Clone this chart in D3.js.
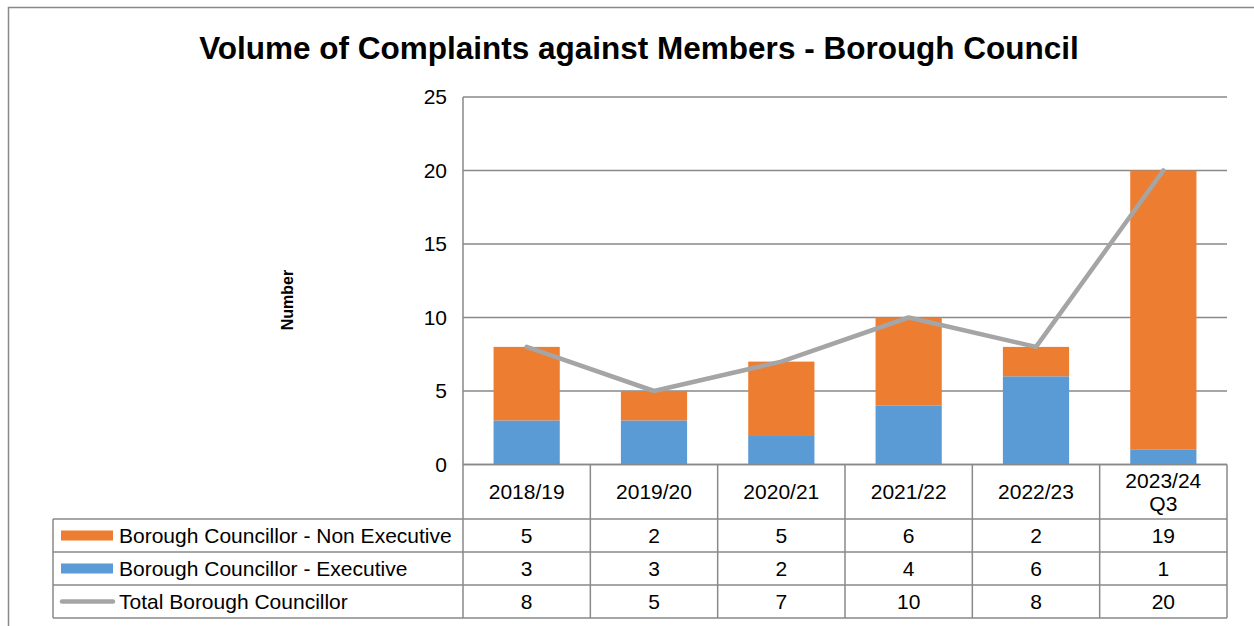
<!DOCTYPE html>
<html><head><meta charset="utf-8">
<script src="https://cdn.jsdelivr.net/npm/d3@7"></script>
<style>html,body{margin:0;padding:0;background:#fff;}svg{display:block;font-family:"Liberation Sans",Arial,sans-serif;}</style>
</head><body>
<svg id="chart" width="1254" height="626"></svg>
<script>
const categories = ["2018/19","2019/20","2020/21","2021/22","2022/23","2023/24\nQ3"];
const nonExecutive = [5,2,5,6,2,19];
const executive = [3,3,2,4,6,1];
const total = [8,5,7,10,8,20];
const yTicks = [0,5,10,15,20,25];
const seriesNames = ["Borough Councillor - Non Executive","Borough Councillor - Executive","Total Borough Councillor"];
const colors = {nonExec:"#ED7D31", exec:"#5B9BD5", total:"#A5A5A5"};

const svg = d3.select("#chart");
const W = 1254, H = 626;
svg.append("rect").attr("width",W).attr("height",H).attr("fill","#fff");
// outer chart border (clipped at right/bottom)
svg.append("rect").attr("x",8.5).attr("y",7.5).attr("width",1300).attr("height",700)
  .attr("fill","none").attr("stroke","#898989").attr("stroke-width",1.5);

const plot = {left:463, right:1227, top:97, bottom:464.5};
const gridColor = "#898989";

svg.append("text").attr("x",639).attr("y",59).attr("text-anchor","middle")
  .attr("font-size",31.5).attr("font-weight","bold").attr("fill","#000")
  .text("Volume of Complaints against Members - Borough Council");

const x = d3.scaleBand().domain(categories).range([plot.left,plot.right]).paddingInner(0.48).paddingOuter(0.24);
const col = d3.scaleBand().domain(categories).range([plot.left,plot.right]).padding(0);
const y = d3.scaleLinear().domain([0,25]).range([plot.bottom,plot.top]);

// gridlines
svg.append("g").selectAll("line").data(yTicks).join("line")
  .attr("x1",plot.left).attr("x2",plot.right)
  .attr("y1",d=>y(d)).attr("y2",d=>y(d))
  .attr("stroke",gridColor).attr("stroke-width",1.5);

// y axis tick labels via d3 axis
const yAxis = d3.axisLeft(y).tickValues(yTicks).tickSize(0).tickPadding(16);
const ya = svg.append("g").attr("transform",`translate(${plot.left},0)`).call(yAxis);
ya.select(".domain").remove();
ya.selectAll("text").attr("font-size",21).attr("fill","#000").attr("font-family","Liberation Sans, Arial, sans-serif");

// y axis title
svg.append("text").attr("transform","translate(293,300) rotate(-90)").attr("text-anchor","middle")
  .attr("font-size",16).attr("font-weight","bold").text("Number");

// stacked bars
const rows = categories.map((c,i)=>({c, exec:executive[i], non:nonExecutive[i], tot:total[i]}));
svg.append("g").selectAll("rect").data(rows).join("rect")
  .attr("x",d=>x(d.c)).attr("width",x.bandwidth())
  .attr("y",d=>y(d.exec)).attr("height",d=>y(0)-y(d.exec)).attr("fill",colors.exec);
svg.append("g").selectAll("rect").data(rows).join("rect")
  .attr("x",d=>x(d.c)).attr("width",x.bandwidth())
  .attr("y",d=>y(d.exec+d.non)).attr("height",d=>y(d.exec)-y(d.exec+d.non)).attr("fill",colors.nonExec);

// total line
const line = d3.line().x(d=>x(d.c)+x.bandwidth()/2).y(d=>y(d.tot));
svg.append("path").datum(rows).attr("d",line).attr("fill","none")
  .attr("stroke",colors.total).attr("stroke-width",4.5).attr("stroke-linejoin","round").attr("stroke-linecap","round");

// y axis line
svg.append("line").attr("x1",plot.left).attr("x2",plot.left).attr("y1",plot.top).attr("y2",618)
  .attr("stroke",gridColor).attr("stroke-width",1.5);

// data table
const rowY = [464.5, 519, 552, 585, 618];
const tableLeft = 53;
const tg = svg.append("g");
// horizontal lines
tg.append("line").attr("x1",plot.left).attr("x2",plot.right).attr("y1",rowY[0]).attr("y2",rowY[0]).attr("stroke",gridColor).attr("stroke-width",1.5);
[1,2,3,4].forEach(k=>{
  tg.append("line").attr("x1",tableLeft).attr("x2",plot.right).attr("y1",rowY[k]).attr("y2",rowY[k]).attr("stroke",gridColor).attr("stroke-width",1.5);
});
// vertical lines
tg.append("line").attr("x1",tableLeft).attr("x2",tableLeft).attr("y1",rowY[1]).attr("y2",rowY[4]).attr("stroke",gridColor).attr("stroke-width",1.5);
categories.forEach(c=>{
  const xr = col(c)+col.bandwidth();
  tg.append("line").attr("x1",xr).attr("x2",xr).attr("y1",rowY[0]).attr("y2",rowY[4]).attr("stroke",gridColor).attr("stroke-width",1.5);
});
// header labels
categories.forEach(c=>{
  const lines = c.split("\n");
  const cx = col(c)+col.bandwidth()/2;
  const mid = (rowY[0]+rowY[1])/2;
  const lh = 23;
  const t = tg.append("text").attr("text-anchor","middle").attr("font-size",21).attr("fill","#000");
  lines.forEach((ln,j)=>{
    t.append("tspan").attr("x",cx).attr("y", mid + 7.5 + (j-(lines.length-1)/2)*lh).text(ln);
  });
});
// values
const tableSeries = [nonExecutive, executive, total];
tableSeries.forEach((vals,r)=>{
  const cy = (rowY[r+1]+rowY[r+2])/2;
  categories.forEach((c,i)=>{
    tg.append("text").attr("x",col(c)+col.bandwidth()/2).attr("y",cy+7.5)
      .attr("text-anchor","middle").attr("font-size",21).attr("fill","#000").text(vals[i]);
  });
  // legend
  if(r<2){
    tg.append("rect").attr("x",61).attr("y",cy-5).attr("width",52).attr("height",10)
      .attr("fill", r===0?colors.nonExec:colors.exec);
  } else {
    tg.append("line").attr("x1",62).attr("x2",113).attr("y1",cy).attr("y2",cy)
      .attr("stroke",colors.total).attr("stroke-width",4.5).attr("stroke-linecap","round");
  }
  tg.append("text").attr("x",119).attr("y",cy+7.5).attr("font-size",21).attr("fill","#000").text(seriesNames[r]);
});
</script>
</body></html>
